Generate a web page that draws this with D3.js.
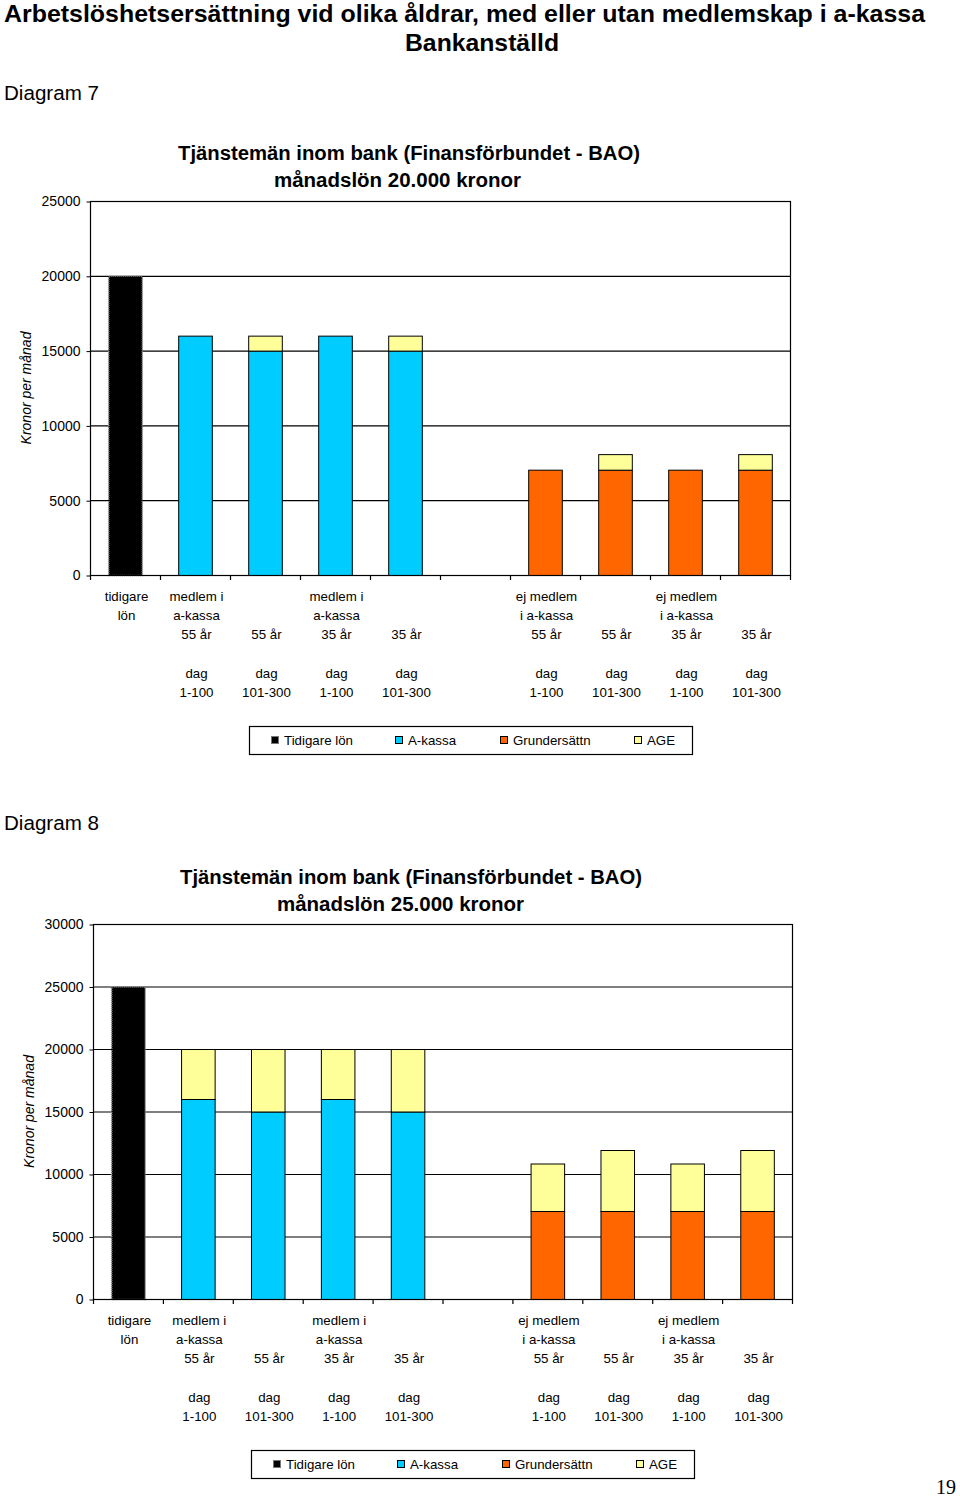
<!DOCTYPE html>
<html>
<head>
<meta charset="utf-8">
<script src="https://cdn.jsdelivr.net/npm/d3@7"></script>
<style>
html,body{margin:0;padding:0;background:#fff;}
svg{display:block;font-family:"Liberation Sans",Arial,sans-serif;}
</style>
</head>
<body>
<svg id="chart" width="960" height="1498"></svg>
<script>
// ---------- DATA ----------
const categories = ["c0","c1","c2","c3","c4","c5","c6","c7","c8","c9"];
const labelLine1 = ["tidigare","medlem i","","medlem i","","","ej medlem","","ej medlem",""];
const labelLine2 = ["lön","a-kassa","","a-kassa","","","i a-kassa","","i a-kassa",""];
const labelAge   = ["","55 år","55 år","35 år","35 år","","55 år","55 år","35 år","35 år"];
const labelDag   = ["","dag","dag","dag","dag","","dag","dag","dag","dag"];
const labelRange = ["","1-100","101-300","1-100","101-300","","1-100","101-300","1-100","101-300"];

const seriesKeys = ["tidigare","akassa","grund","age"];
const seriesNames = ["Tidigare lön","A-kassa","Grundersättn","AGE"];
const seriesColors = ["#000000","#00CCFF","#FF6600","#FFFF99"];

// Diagram 7 (20.000 kr)
const tidigare7 = [20000,0,0,0,0,0,0,0,0,0];
const akassa7   = [0,16000,15000,16000,15000,0,0,0,0,0];
const grund7    = [0,0,0,0,0,0,7040,7040,7040,7040];
const age7      = [0,0,1000,0,1000,0,0,1040,0,1040];
const yTicks7   = [0,5000,10000,15000,20000,25000];

// Diagram 8 (25.000 kr)
const tidigare8 = [25000,0,0,0,0,0,0,0,0,0];
const akassa8   = [0,16000,15000,16000,15000,0,0,0,0,0];
const grund8    = [0,0,0,0,0,0,7040,7040,7040,7040];
const age8      = [0,4000,5000,4000,5000,0,3800,4880,3800,4880];
const yTicks8   = [0,5000,10000,15000,20000,25000,30000];

const mainTitle1 = "Arbetslöshetsersättning vid olika åldrar, med eller utan medlemskap i a-kassa";
const mainTitle2 = "Bankanställd";
const chartTitle1 = "Tjänstemän inom bank (Finansförbundet - BAO)";
const chartTitle7b = "månadslön 20.000 kronor";
const chartTitle8b = "månadslön 25.000 kronor";
const yTitle = "Kronor per månad";

// ---------- DRAW ----------
const svg = d3.select("#chart");

svg.append("text").attr("x",4).attr("y",22)
  .attr("font-size",24).attr("font-weight","bold")
  .attr("textLength",921).attr("lengthAdjust","spacingAndGlyphs")
  .text(mainTitle1);
svg.append("text").attr("x",405).attr("y",51)
  .attr("font-size",24).attr("font-weight","bold")
  .attr("textLength",154).attr("lengthAdjust","spacingAndGlyphs")
  .text(mainTitle2);

svg.append("text").attr("x",4).attr("y",100).attr("font-size",20.5)
  .attr("textLength",95).attr("lengthAdjust","spacingAndGlyphs").text("Diagram 7");
svg.append("text").attr("x",4).attr("y",830).attr("font-size",20.5)
  .attr("textLength",95).attr("lengthAdjust","spacingAndGlyphs").text("Diagram 8");

svg.append("text").attr("x",936).attr("y",1494)
  .attr("font-family","'Liberation Serif','DejaVu Serif',serif")
  .attr("font-size",20).text("19");

function drawChart(cfg){
  const g = svg.append("g");
  const rows = categories.map((c,i)=>({cat:c,
    tidigare:cfg.tidigare[i], akassa:cfg.akassa[i], grund:cfg.grund[i], age:cfg.age[i]}));

  const xOuter = d3.scaleBand().domain(categories).range([cfg.x0,cfg.x1]).padding(0);
  const x = d3.scaleBand().domain(categories).range([cfg.x0,cfg.x1])
    .paddingInner(0.52).paddingOuter(0.26);
  const y = d3.scaleLinear().domain([0,cfg.yMax]).range([cfg.yBot,cfg.yTop]);

  // titles
  g.append("text").attr("x",cfg.t1x).attr("y",cfg.t1y)
    .attr("font-size",19.5).attr("font-weight","bold")
    .attr("textLength",462).attr("lengthAdjust","spacingAndGlyphs").text(chartTitle1);
  g.append("text").attr("x",cfg.t2x).attr("y",cfg.t1y+27)
    .attr("font-size",19.5).attr("font-weight","bold")
    .attr("textLength",247).attr("lengthAdjust","spacingAndGlyphs").text(cfg.title2);

  // gridlines
  g.append("g").selectAll("line").data(cfg.yTicks).join("line")
    .attr("x1",cfg.x0).attr("x2",cfg.x1)
    .attr("y1",d=>y(d)+0.5).attr("y2",d=>y(d)+0.5)
    .attr("stroke","#000").attr("stroke-width",1.2);

  // y axis
  const ya = g.append("g").attr("transform",`translate(${cfg.x0+0.5},0)`)
    .call(d3.axisLeft(y).tickValues(cfg.yTicks).tickSize(4).tickPadding(6).tickFormat(d3.format("d")));
  ya.select(".domain").remove();
  ya.selectAll(".tick line").attr("stroke","#000").attr("transform","translate(0,0.5)");
  ya.selectAll(".tick text").attr("font-size",14).attr("font-family","'Liberation Sans',Arial,sans-serif")
    .attr("fill","#000").attr("dy","0.35em");

  // y title
  g.append("text")
    .attr("transform",`translate(${cfg.ytx},${(cfg.yTop+cfg.yBot)/2}) rotate(-90)`)
    .attr("text-anchor","middle").attr("font-size",14).attr("font-style","italic")
    .text(yTitle);

  // bars
  const stack = d3.stack().keys(seriesKeys)(rows);
  stack.forEach((layer,li)=>{
    g.append("g").selectAll("rect").data(layer.filter(d=>d[1]-d[0]>0)).join("rect")
      .attr("x",d=>x(d.data.cat)+0.5)
      .attr("width",x.bandwidth())
      .attr("y",d=>y(d[1])+0.5)
      .attr("height",d=>y(d[0])-y(d[1]))
      .attr("fill",seriesColors[li])
      .attr("stroke",li===0?"#8a8a8a":"#000")
      .attr("stroke-width",li===0?1.6:1)
      .attr("stroke-dasharray",li===0?"1,1":null);
  });

  // frame
  g.append("rect").attr("x",cfg.x0+0.5).attr("y",cfg.yTop+0.5)
    .attr("width",cfg.x1-cfg.x0).attr("height",cfg.yBot-cfg.yTop)
    .attr("fill","none").attr("stroke","#000").attr("stroke-width",1.2);

  // x axis ticks at band boundaries
  const bounds = categories.map(c=>xOuter(c)).concat([cfg.x1]);
  g.append("g").selectAll("line").data(bounds).join("line")
    .attr("x1",d=>d+0.5).attr("x2",d=>d+0.5)
    .attr("y1",cfg.yBot).attr("y2",cfg.yBot+5)
    .attr("stroke","#000").attr("stroke-width",1.2);

  // x labels
  const lines = [labelLine1,labelLine2,labelAge,labelDag,labelRange];
  const offs = [0,19,38,77,96];
  const lg = g.append("g").attr("font-size",13.3).attr("text-anchor","middle");
  lines.forEach((arr,li)=>{
    lg.append("g").selectAll("text").data(categories.map((c,i)=>({c,t:arr[i]})).filter(d=>d.t))
      .join("text")
      .attr("x",d=>xOuter(d.c)+xOuter.bandwidth()/2+1.5)
      .attr("y",cfg.labY+offs[li])
      .text(d=>d.t);
  });

  // legend
  const L = g.append("g").attr("transform",`translate(${cfg.legX},${cfg.legY})`);
  L.append("rect").attr("x",0.5).attr("y",0.5).attr("width",443).attr("height",28)
    .attr("fill","#fff").attr("stroke","#000").attr("stroke-width",1.2);
  const legPos = [22,146,251,385];
  seriesNames.forEach((n,i)=>{
    L.append("rect").attr("x",legPos[i]+0.5).attr("y",10.5).attr("width",7).attr("height",7)
      .attr("fill",seriesColors[i]).attr("stroke",i===0?"#777":"#000").attr("stroke-width",1);
    L.append("text").attr("x",legPos[i]+13).attr("y",19).attr("font-size",13.3).text(n);
  });
}

drawChart({tidigare:tidigare7, akassa:akassa7, grund:grund7, age:age7,
  yTicks:yTicks7, yMax:25000, x0:90, x1:790, yTop:201, yBot:575,
  t1x:178, t2x:274, t1y:160, title2:chartTitle7b, ytx:31,
  labY:601, legX:249, legY:726});

drawChart({tidigare:tidigare8, akassa:akassa8, grund:grund8, age:age8,
  yTicks:yTicks8, yMax:30000, x0:93, x1:792, yTop:924, yBot:1299,
  t1x:180, t2x:277, t1y:884, title2:chartTitle8b, ytx:34,
  labY:1325, legX:251, legY:1450});
</script>
</body>
</html>
